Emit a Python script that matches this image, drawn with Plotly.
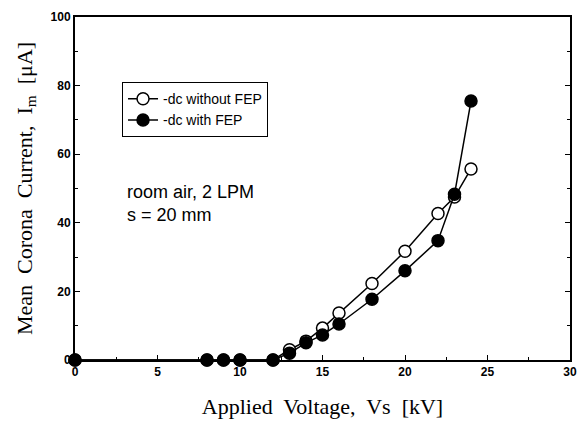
import plotly.graph_objects as go

voltage = [0, 8, 9, 10, 12, 13, 14, 15, 16, 18, 20, 22, 23, 24]
without_fep = [0, 0, 0, 0, 0, 3.0, 5.5, 9.3, 13.7, 22.3, 31.7, 42.7, 47.5, 55.7]
with_fep = [0, 0, 0, 0, 0, 2.0, 5.0, 7.3, 10.5, 17.7, 26.0, 34.8, 48.3, 75.5]
series_names = ["-dc without FEP", "-dc with FEP"]

NB = "\u00a0"
fig = go.Figure()
fig.add_trace(go.Scatter(
    x=voltage, y=without_fep, name=series_names[0], mode="lines+markers",
    line=dict(color="black", width=1.5),
    marker=dict(symbol="circle", size=12, color="white", line=dict(color="black", width=1.5)),
    cliponaxis=False,
))
fig.add_trace(go.Scatter(
    x=voltage, y=with_fep, name=series_names[1], mode="lines+markers",
    line=dict(color="black", width=1.5),
    marker=dict(symbol="circle", size=12, color="black", line=dict(color="black", width=1.5)),
    cliponaxis=False,
))

tickfont = dict(family="Liberation Sans, Arial", size=12, color="black", weight="bold")
titlefont = dict(family="Liberation Serif, Times New Roman", size=22, color="black")

fig.update_layout(
    width=586, height=421,
    margin=dict(l=75, r=16, t=17, b=61),
    paper_bgcolor="white", plot_bgcolor="white",
    showlegend=True,
    legend=dict(
        x=0.095, y=0.81, xanchor="left", yanchor="top",
        bordercolor="black", borderwidth=1, bgcolor="white",
        font=dict(family="Liberation Sans, Arial", size=14, color="black"),
        tracegroupgap=0,
    ),
    xaxis=dict(
        range=[0, 30], dtick=5, tick0=0, automargin=False,
        showgrid=False, zeroline=False,
        showline=True, linecolor="black", linewidth=2, mirror=True,
        ticks="inside", ticklen=5, tickwidth=1, tickcolor="black",
        minor=dict(dtick=2.5, ticks="inside", ticklen=3, tickcolor="black"),
        tickfont=tickfont,
        title=dict(text=f"Applied{NB} Voltage,{NB} Vs{NB} [kV]", font=titlefont, standoff=20),
    ),
    yaxis=dict(
        range=[0, 100], dtick=20, tick0=0, automargin=False,
        showgrid=False, zeroline=False,
        showline=True, linecolor="black", linewidth=2, mirror="ticks",
        ticks="inside", ticklen=5, tickwidth=1, tickcolor="black",
        minor=dict(dtick=10, ticks="inside", ticklen=3, tickcolor="black"),
        tickfont=tickfont,
        title=dict(text=f"Mean{NB} Corona{NB} Current,{NB} I<sub>m</sub>{NB} [μA]", font=titlefont, standoff=12),
    ),
    annotations=[dict(
        x=3.0, y=52.5, xref="x", yref="y", xanchor="left", yanchor="top",
        text="room air, 2 LPM<br>s = 20 mm", showarrow=False, align="left",
        font=dict(family="Liberation Sans, Arial", size=18, color="black"),
    )],
)

fig.write_html("out.html")
